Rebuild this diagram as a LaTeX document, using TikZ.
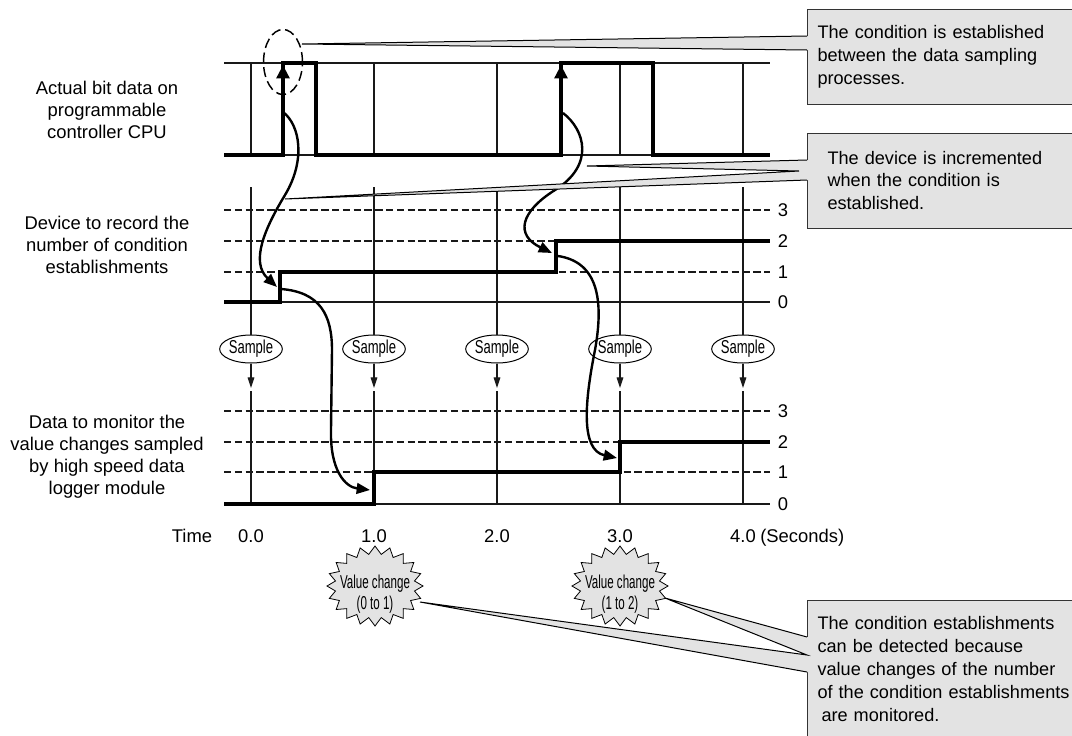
\documentclass[tikz,border=0pt]{standalone}
\usepackage{fontspec}
\setmainfont{Liberation Sans}
\usetikzlibrary{positioning,arrows.meta,shapes.geometric,shapes.symbols}
\newcommand{\narrowtext}[2][0.7]{\scalebox{#1}[1]{#2}}

\begin{document}
\begin{tikzpicture}[x=0.75pt,y=-0.75pt,
		txt/.style={inner sep=0pt,font=\fontsize{13.8}{16.6}\selectfont},
		gridline/.style={line width=0.8pt,black!90},
		levelline/.style={gridline,dash pattern=on 5.5pt off 2.6pt},
		sigline/.style={line width=2.6pt},
		flow/.style={line width=1.8pt,-{Triangle[length=10pt,width=8pt]}},
		samplenode/.style={draw,ellipse,line width=0.75pt,inner sep=0pt,
				minimum width=45.75pt,minimum height=21pt,
				font=\fontsize{14}{14}\selectfont},
		burst/.style={draw,starburst,starburst points=20,
				starburst point height=6pt,random starburst=0,
				fill=black!11,line width=0.6pt,inner sep=0pt,
				minimum width=72pt,minimum height=60pt},
		bursttxt/.style={inner sep=0pt,align=center,
				font=\fontsize{14}{16}\selectfont},
		callbox/.style={draw=black!80,fill=black!11,line width=0.75pt,
				anchor=west,inner xsep=7.5pt,inner ysep=0pt,text width=200pt,
				align=left,font=\fontsize{13.6}{17.2}\selectfont},
		wedge/.style={line width=0.75pt}]

	\useasboundingbox (0,0) rectangle (1072,736);

	\node (bitlbl) [txt,align=center] at (107,110) {Actual bit data on\\programmable\\controller CPU};
	\node (devlbl) [txt,align=center] at (107,245) {Device to record the\\number of condition\\establishments};
	\node (loglbl) [txt,align=center] at (107,457) {Data to monitor the\\value changes sampled\\by high speed data\\logger module};

	\draw[gridline] (224,63) -- (770,63);
	\draw[gridline] (224,155) -- (770,155);
	\foreach \yy/\lv in {210/3,241/2,272/1}{
		\draw[levelline] (224,\yy) -- (770,\yy);
		\node (dev\lv) [txt] at (783,\yy) {\lv};
	}
	\draw[gridline] (224,302) -- (770,302);
	\node (dev0) [txt] at (783,302) {0};
	\foreach \yy/\lv in {411/3,442/2,472/1}{
		\draw[levelline] (224,\yy) -- (770,\yy);
		\node (log\lv) [txt] at (783,\yy) {\lv};
	}
	\draw[gridline] (224,504) -- (770,504);
	\node (log0) [txt] at (783,504) {0};

	\foreach \x/\idx in {251/0,374/1,497/2,620/3,743/4}{
		\draw[gridline] (\x,63) -- (\x,155);
		\node (smp\idx) [samplenode] at (\x,349) {\narrowtext{Sample}};
		\draw[gridline] (\x,187) -- (smp\idx);
		\coordinate (smptip\idx) at (\x,388);
		\draw[gridline,-{Triangle[length=8pt,width=5pt]}] (smp\idx) -- (smptip\idx);
		\draw[gridline] (\x,391) -- (\x,504);
		\node (t\idx) [txt] at (\x,536) {\idx.0};
	}
	\node (timelbl) [txt] at (192,536) {Time};
	\node (secs) [txt,base right=3pt of t4] {(Seconds)};

	\draw[sigline] (224,155) -- (283,155) -- (283,63) -- (316,63) -- (316,155) -- (561,155)
		-- (561,63) -- (653,63) -- (653,155) -- (770,155);
	\draw[sigline] (224,302) -- (280,302) -- (280,272) -- (556,272) -- (556,241) -- (770,241);
	\draw[sigline] (224,504) -- (374,504) -- (374,472) -- (620,472) -- (620,442) -- (770,442);
	\draw[line width=2.6pt,-{Triangle[length=10pt,width=9.5pt]}] (283,100) -- (283,65);
	\draw[line width=2.6pt,-{Triangle[length=10pt,width=9.5pt]}] (561,100) -- (561,65);

	\draw[line width=1.1pt,dash pattern=on 7.5pt off 3.5pt] (283,62) ellipse [x radius=14.6pt,y radius=24.4pt];

	\coordinate (rise1) at (283,112);
	\coordinate (inc1) at (277,287);
	\draw[flow] (rise1) .. controls (300,125) and (306,160) .. (285,195)
		.. controls (265,228) and (250,262) .. (inc1);
	\coordinate (cnt1) at (281,289);
	\coordinate (chg1) at (370,490);
	\draw[flow] (cnt1) .. controls (320,292) and (332,315) .. (332,350) -- (331,430)
		.. controls (330,470) and (345,487) .. (chg1);
	\coordinate (rise2) at (563,113);
	\coordinate (inc2) at (552,253);
	\draw[flow] (rise2) .. controls (585,130) and (595,165) .. (555,190)
		.. controls (520,212) and (515,235) .. (inc2);
	\coordinate (cnt2) at (558,256);
	\coordinate (chg2) at (617,458);
	\draw[flow] (cnt2) .. controls (598,262) and (604,300) .. (595,350)
		.. controls (585,400) and (580,450) .. (chg2);

	\node (cond) [callbox,minimum height=71.25pt] at (807,56.5) {The condition is established\\between the data sampling\\processes.};
	\node (incr) [callbox,minimum height=71.25pt,inner xsep=15pt] at (807,180.5) {The device is incremented\\when the condition is\\established.};
	\node (detect) [callbox,minimum height=103.5pt] at (807,669) {The condition establishments\\can be detected because\\value changes of the number\\of the condition establishments\\\hspace*{3pt}are monitored.};

	\coordinate (ctip) at (302,44);
	\coordinate (cup) at (807,36);
	\coordinate (clow) at (807,50);
	\fill[black!11] (ctip) -- (cup) -- ([xshift=1.5pt]cup) -- ([xshift=1.5pt]clow) -- (clow) -- cycle;
	\draw[wedge] (cup) -- (ctip) -- (clow);

	\coordinate (itipa) at (587,166);
	\coordinate (itipb) at (285,199);
	\coordinate (iup) at (807,160);
	\coordinate (imid) at (799,171);
	\coordinate (ilow) at (807,180);
	\fill[black!11] (itipa) -- (iup) -- ([xshift=1.5pt]iup) -- ([xshift=1.5pt]ilow) -- (ilow)
		-- (itipb) -- (imid) -- cycle;
	\draw[wedge] (iup) -- (itipa) -- (imid) -- (itipb) -- (ilow);

	\coordinate (dtipa) at (665,598);
	\coordinate (dtipb) at (420,602);
	\coordinate (dup) at (807,637);
	\coordinate (dmid) at (807,655);
	\coordinate (dlow) at (807,672);
	\fill[black!11] (dtipa) -- (dup) -- ([xshift=1.5pt]dup) -- ([xshift=1.5pt]dlow) -- (dlow)
		-- (dtipb) -- (dmid) -- cycle;
	\draw[wedge] (dup) -- (dtipa) -- (dmid) -- (dtipb) -- (dlow);

	\node (vc1) [burst] at (375,586) {};
	\node (vc1txt) [bursttxt] at (375,594) {\narrowtext[0.62]{Value change}\\\narrowtext[0.62]{(0 to 1)}};
	\node (vc2) [burst] at (620,586) {};
	\node (vc2txt) [bursttxt] at (620,594) {\narrowtext[0.62]{Value change}\\\narrowtext[0.62]{(1 to 2)}};

\end{tikzpicture}
\end{document}
